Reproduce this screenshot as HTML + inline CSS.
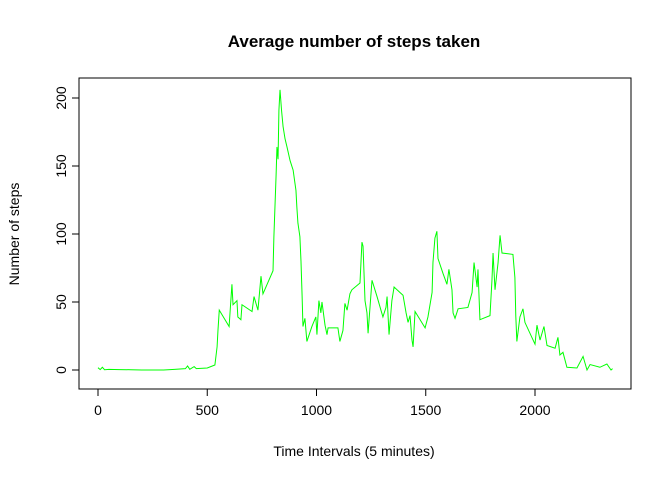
<!DOCTYPE html>
<html><head><meta charset="utf-8"><style>
body{margin:0;background:#fff;}
svg{display:block;font-family:"Liberation Sans",Arial,sans-serif;}
</style></head><body>
<svg id="chart" width="672" height="480">
<text x="354" y="47" text-anchor="middle" font-size="17" font-weight="bold">Average number of steps taken</text>
<text x="354" y="456" text-anchor="middle" font-size="14">Time Intervals (5 minutes)</text>
<text transform="translate(19,234) rotate(-90)" text-anchor="middle" font-size="14">Number of steps</text>
<rect x="79" y="78" width="552" height="311" fill="none" stroke="#000"/>
<g id="xaxis"></g>
<g id="yaxis"></g>
<polyline id="line" fill="none" stroke="#00ff00" stroke-width="1"/>
</svg>
<script>
const xTicks=[0,500,1000,1500,2000];
const yTicks=[0,50,100,150,200];
const intervals=[0,10,20,30,50,100,150,200,250,300,350,400,410,420,440,450,500,535,545,549,555,600,613,618,636,640,654,659,705,714,732,746,755,801,805,815,819,824,828,833,840,847,856,865,879,893,906,910,915,924,929,934,938,947,956,979,997,1002,1011,1020,1025,1039,1048,1053,1098,1107,1121,1130,1140,1153,1162,1199,1208,1213,1222,1231,1236,1254,1277,1304,1318,1323,1332,1345,1355,1382,1396,1410,1419,1428,1437,1442,1451,1497,1510,1529,1533,1542,1551,1556,1579,1597,1606,1620,1625,1634,1648,1693,1712,1721,1735,1739,1748,1794,1803,1808,1817,1831,1840,1849,1899,1908,1912,1917,1931,1945,1954,2000,2009,2023,2041,2055,2092,2105,2114,2128,2146,2192,2220,2238,2252,2297,2329,2348,2355];
const steps=[1.7,0.3,2,0.2,0.5,0.3,0.2,0,0,0,0.5,1,3,0.5,2.5,1,1.5,3.7,17,29,44,32,63,48,51,39,37,48,43,54,44,69,56,73,98,143,164,155,191,206,191,179,170,164,154,147,132,120,108,98,80,55,32,38,21,32,39,26,51,42,50,33,26,31,31,21,29,49,44,56,59,64,94,91,51,42,27,66,54,39,46,54,26,51,61,57,55,42,35,40,22,17,43,31,39,57,79,97,102,82,71,63,74,59,42,38,45,46,57,79,61,74,37,40,66,86,59,79,99,86,85,68,40,21,39,45,35,19,33,22,32,18,16,24,11,13,2,1.5,10,0,4,2,4.4,0,1];
const X=v=>98+v*0.2185, Y=v=>370-v*1.36;
const ns="http://www.w3.org/2000/svg";
const xa=document.getElementById('xaxis'), ya=document.getElementById('yaxis');
function mk(t,a,p){const e=document.createElementNS(ns,t);for(const k in a)e.setAttribute(k,a[k]);p.appendChild(e);return e;}
mk('line',{x1:X(xTicks[0]),x2:X(xTicks[xTicks.length-1]),y1:389,y2:389,stroke:'#000'},xa);
xTicks.forEach(t=>{mk('line',{x1:X(t),x2:X(t),y1:389,y2:396,stroke:'#000'},xa);
const l=mk('text',{x:X(t),y:415,'text-anchor':'middle','font-size':'14'},xa);l.textContent=t;

});
mk('line',{x1:79,x2:79,y1:Y(yTicks[0]),y2:Y(yTicks[yTicks.length-1]),stroke:'#000'},ya);
yTicks.forEach(t=>{mk('line',{x1:72,x2:79,y1:Y(t),y2:Y(t),stroke:'#000'},ya);
const l=mk('text',{transform:`translate(66,${Y(t)}) rotate(-90)`,'text-anchor':'middle','font-size':'14'},ya);l.textContent=t;

});
document.getElementById('line').setAttribute('points',intervals.map((t,i)=>X(t)+','+Y(steps[i])).join(' '));
</script>
</body></html>
